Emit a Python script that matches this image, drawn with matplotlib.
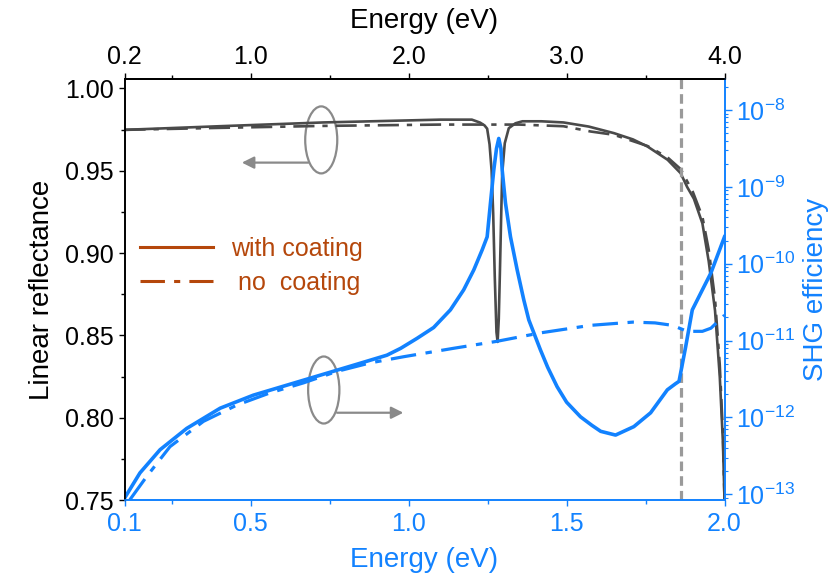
import numpy as np
import matplotlib
matplotlib.use('Agg')
import matplotlib.pyplot as plt
from matplotlib.lines import Line2D
from matplotlib.patches import Ellipse
from matplotlib.ticker import FixedLocator, FixedFormatter, LogLocator, NullFormatter, LogFormatterSciNotation

plt.rcParams['font.family'] = ['Liberation Sans', 'DejaVu Sans']
plt.rcParams['mathtext.fontset'] = 'custom'
plt.rcParams['mathtext.rm'] = 'Liberation Sans'
plt.rcParams['mathtext.it'] = 'Liberation Sans:italic'
plt.rcParams['mathtext.bf'] = 'Liberation Sans:bold'

# ---------------- data ----------------
# Linear reflectance, with coating (solid gray)
E_R_coat = [0.10, 0.40, 0.73, 1.10, 1.20, 1.226, 1.240, 1.2484, 1.256, 1.2625, 1.2675,
            1.2725, 1.2779, 1.2815, 1.2852, 1.2890, 1.2925, 1.2960, 1.3042, 1.3169, 1.3381,
            1.36, 1.42, 1.49, 1.57, 1.65, 1.71, 1.756, 1.82, 1.861, 1.882, 1.903, 1.93,
            1.95, 1.97, 1.985, 1.995, 2.0]
R_coat = [0.9748, 0.9770, 0.9793, 0.9810, 0.9810, 0.9792, 0.9775, 0.9755, 0.9660, 0.9500,
          0.9240, 0.8857, 0.8520, 0.8460, 0.8600, 0.8900, 0.9200, 0.9480, 0.9667, 0.9758,
          0.9788, 0.9800, 0.9800, 0.9793, 0.9768, 0.9728, 0.9690, 0.9647, 0.9566, 0.9485,
          0.9400, 0.9330, 0.9180, 0.8950, 0.8650, 0.8250, 0.7850, 0.7500]

# Linear reflectance, no coating (dash-dot gray)
E_R_bare = [0.10, 0.40, 0.73, 1.10, 1.35, 1.49, 1.576, 1.65, 1.756, 1.82, 1.861, 1.90,
            1.93, 1.95, 1.97, 1.985, 1.995, 2.0]
R_bare = [0.9748, 0.9760, 0.9772, 0.9780, 0.9780, 0.9770, 0.9738, 0.9718, 0.9650, 0.9580,
          0.9510, 0.9370, 0.9220, 0.9020, 0.8720, 0.8320, 0.7900, 0.7500]

# SHG efficiency, with coating (solid blue)
E_S_coat = [0.10, 0.149, 0.2125, 0.297, 0.403, 0.508, 0.614, 0.72, 0.826, 0.931, 0.9747,
            1.0264, 1.079, 1.132, 1.174, 1.206, 1.2325, 1.2484, 1.2589, 1.2694, 1.278,
            1.2852, 1.292, 1.296, 1.3064, 1.3223, 1.3435, 1.3644, 1.3803, 1.417, 1.44,
            1.47, 1.50, 1.544, 1.58, 1.608, 1.655, 1.713, 1.766, 1.819, 1.845, 1.856,
            1.877, 1.898, 1.925, 1.957, 2.0]
S_coat = [8.9e-14, 1.9e-13, 3.8e-13, 7.2e-13, 1.32e-12, 1.95e-12, 2.63e-12, 3.55e-12,
          4.79e-12, 6.46e-12, 7.94e-12, 1.07e-11, 1.48e-11, 2.51e-11, 4.57e-11, 8.3e-11,
          1.51e-10, 2.24e-10, 6.17e-10, 1.66e-9, 3.16e-9, 4.27e-9, 3.16e-9, 1.66e-9,
          6.17e-10, 2.24e-10, 8.3e-11, 3.39e-11, 1.86e-11, 7.59e-12, 4.5e-12, 2.51e-12,
          1.58e-12, 1.02e-12, 7.9e-13, 6.6e-13, 5.9e-13, 7.6e-13, 1.15e-12, 2.29e-12,
          2.75e-12, 2.95e-12, 8.3e-12, 2.51e-11, 4.17e-11, 7.6e-11, 2.24e-10]

# SHG efficiency, no coating (dash-dot blue)
E_S_bare = [0.117, 0.17, 0.244, 0.35, 0.456, 0.561, 0.667, 0.773, 0.878, 0.984, 1.142,
            1.28, 1.417, 1.576, 1.71, 1.78, 1.835, 1.882, 1.93, 1.957, 2.0]
S_bare = [8.5e-14, 1.7e-13, 4.17e-13, 8.9e-13, 1.45e-12, 2.09e-12, 2.82e-12, 3.98e-12,
          5.13e-12, 6.17e-12, 7.94e-12, 9.8e-12, 1.26e-11, 1.58e-11, 1.74e-11, 1.7e-11,
          1.58e-11, 1.32e-11, 1.32e-11, 1.45e-11, 2.14e-11]

E_marker = 1.861  # vertical dashed line

bottom_ticks = [0.1, 0.5, 1.0, 1.5, 2.0]
bottom_labels = ['0.1', '0.5', '1.0', '1.5', '2.0']
top_ticks = [0.2, 1.0, 2.0, 3.0, 4.0]
top_labels = ['0.2', '1.0', '2.0', '3.0', '4.0']
left_ticks = [0.75, 0.80, 0.85, 0.90, 0.95, 1.00]
left_labels = ['0.75', '0.80', '0.85', '0.90', '0.95', '1.00']
legend_labels = ['with coating', ' no  coating']

# ---------------- style ----------------
BLUE = '#1282FF'
GRAY = '#4A4A4A'
BROWN = '#B5470B'
ANNO = '#8A8A8A'
DASHDOT = (0, (8, 3, 2, 3))
FS_TICK = 18
FS_LABEL = 20

fig = plt.figure(figsize=(8.35, 5.79), dpi=100)
ax = fig.add_axes([124.5 / 835, 1 - 500 / 579, 600 / 835, (500 - 79.3) / 579])
ax.set_xlim(0.1, 2.0)
ax.set_ylim(0.75, 1.0055)

ax.plot(E_R_bare, R_bare, color=GRAY, lw=1.9, ls=DASHDOT)
ax.plot(E_R_coat, R_coat, color=GRAY, lw=1.9)
ax.axvline(E_marker, color='#9A9A9A', lw=2.3, ls=(0, (3, 1.6)))

# annotations
ax.add_patch(Ellipse((0.723, 0.9687), 0.1015, 0.0407, fill=False, ec=ANNO, lw=1.6))
ax.annotate('', xy=(0.4716, 0.9549), xytext=(0.682, 0.9549),
            arrowprops=dict(arrowstyle='-|>', color=ANNO, lw=1.6, mutation_scale=18,
                            shrinkA=0, shrinkB=0))
ax.add_patch(Ellipse((0.731, 0.8168), 0.099, 0.0407, fill=False, ec=ANNO, lw=1.6))
ax.annotate('', xy=(0.983, 0.803), xytext=(0.773, 0.803),
            arrowprops=dict(arrowstyle='-|>', color=ANNO, lw=1.6, mutation_scale=18,
                            shrinkA=0, shrinkB=0))

# legend
handles = [Line2D([], [], color=BROWN, lw=2.2, ls='-'),
           Line2D([], [], color=BROWN, lw=2.2, ls=DASHDOT)]
leg = ax.legend(handles, legend_labels, frameon=False, loc='center left',
                bbox_to_anchor=(0.026, 0.5565), borderpad=0, borderaxespad=0,
                handlelength=2.9, handletextpad=0.75, labelspacing=0.38,
                fontsize=FS_TICK, labelcolor=BROWN)

# left / bottom axis ticks
ax.yaxis.set_major_locator(FixedLocator(left_ticks))
ax.yaxis.set_major_formatter(FixedFormatter(left_labels))
ax.yaxis.set_minor_locator(FixedLocator([0.775, 0.825, 0.875, 0.925, 0.975]))
ax.xaxis.set_major_locator(FixedLocator(bottom_ticks))
ax.xaxis.set_major_formatter(FixedFormatter(bottom_labels))
ax.xaxis.set_minor_locator(FixedLocator([0.25, 0.75, 1.25, 1.75]))
ax.tick_params(axis='y', which='both', direction='out', labelsize=FS_TICK, pad=3, color='black')
ax.tick_params(axis='y', which='major', length=4.5, width=1)
ax.tick_params(axis='y', which='minor', length=3, width=1)
ax.tick_params(axis='x', which='both', direction='out', labelsize=FS_TICK, pad=4,
               color=BLUE, labelcolor=BLUE, top=False)
ax.tick_params(axis='x', which='major', length=4.5, width=1)
ax.tick_params(axis='x', which='minor', length=3, width=1)
ax.set_ylabel('Linear reflectance', fontsize=FS_LABEL, labelpad=7)
ax.set_xlabel('Energy (eV)', fontsize=FS_LABEL, color=BLUE, labelpad=8)
ax.xaxis.get_offset_text().set_visible(False)
ax.yaxis.get_offset_text().set_visible(False)

# right axis
ax2 = ax.twinx()
ax2.set_yscale('log')
ax2.set_ylim(10 ** -13.074, 10 ** -7.60)
ax2.plot(E_S_bare, S_bare, color=BLUE, lw=2.3, ls=DASHDOT)
ax2.plot(E_S_coat, S_coat, color=BLUE, lw=2.6)
ax2.yaxis.set_major_locator(LogLocator(base=10, numticks=20))
ax2.yaxis.set_major_formatter(LogFormatterSciNotation())
ax2.yaxis.set_minor_locator(LogLocator(base=10, subs=np.arange(2, 10), numticks=40))
ax2.yaxis.set_minor_formatter(NullFormatter())
ax2.tick_params(axis='y', which='both', direction='out', labelsize=FS_TICK, pad=3,
                color=BLUE, labelcolor=BLUE)
ax2.tick_params(axis='y', which='major', length=5, width=1)
ax2.tick_params(axis='y', which='minor', length=2.5, width=0.8)
ax2.set_ylabel('SHG efficiency', fontsize=FS_LABEL, color=BLUE, labelpad=6)
ax2.xaxis.get_offset_text().set_visible(False)
ax2.yaxis.get_offset_text().set_visible(False)

for a in (ax, ax2):
    a.spines['bottom'].set_color(BLUE)
    a.spines['right'].set_color(BLUE)
    a.spines['top'].set_color('black')
    a.spines['left'].set_color('black')
    for s in a.spines.values():
        s.set_linewidth(1.2)

# top axis (energy x2)
secax = ax.secondary_xaxis('top', functions=(lambda x: 2 * x, lambda x: x / 2))
secax.xaxis.set_major_locator(FixedLocator(top_ticks))
secax.xaxis.set_major_formatter(FixedFormatter(top_labels))
secax.xaxis.set_minor_locator(FixedLocator([0.5, 1.5, 2.5, 3.5]))
secax.tick_params(axis='x', which='both', direction='out', labelsize=FS_TICK, pad=3)
secax.tick_params(axis='x', which='major', length=4.5, width=1)
secax.tick_params(axis='x', which='minor', length=3, width=1)
secax.set_xlabel('Energy (eV)', fontsize=FS_LABEL, labelpad=12)
secax.spines['top'].set_linewidth(1.2)
secax.xaxis.get_offset_text().set_visible(False)

fig.savefig('out.png', dpi=100)
